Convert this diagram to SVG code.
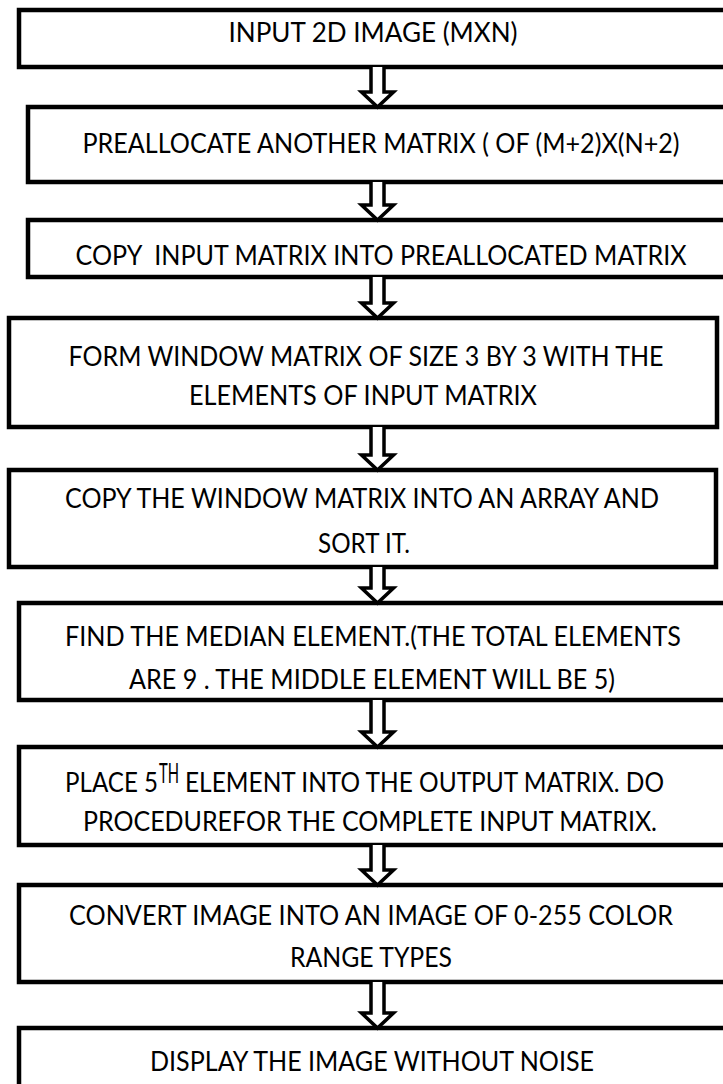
<svg xmlns="http://www.w3.org/2000/svg" width="723" height="1084" viewBox="0 0 723 1084">
<style>
.box{fill:#fff;stroke:#000;stroke-width:4.5}
.t{font-family:Lato,"Liberation Sans",sans-serif;font-size:27px;fill:#000;text-anchor:middle}
.s{font-family:Lato,"Liberation Sans",sans-serif;font-size:27px;fill:#000;text-anchor:start}
.arr{fill:#fff;stroke:#000;stroke-width:3.5;stroke-linejoin:miter}
</style>
<rect width="723" height="1084" fill="#fff"/>
<g id="n1"><rect class="box" x="19" y="10" width="720" height="57"/><text class="t" x="373" y="42" textLength="289" lengthAdjust="spacingAndGlyphs">INPUT 2D IMAGE (MXN)</text></g>
<g id="n2"><rect class="box" x="28" y="107" width="711" height="75"/><text class="t" x="381" y="153" textLength="597" lengthAdjust="spacingAndGlyphs">PREALLOCATE ANOTHER MATRIX ( OF (M+2)X(N+2)</text></g>
<g id="n3"><rect class="box" x="28" y="220" width="711" height="57"/><text class="t" x="381" y="265" textLength="611" lengthAdjust="spacingAndGlyphs" xml:space="preserve">COPY  INPUT MATRIX INTO PREALLOCATED MATRIX</text></g>
<g id="n4"><rect class="box" x="9" y="318" width="708" height="109"/><text class="t" x="366" y="366" textLength="595" lengthAdjust="spacingAndGlyphs">FORM WINDOW MATRIX OF SIZE 3 BY 3 WITH THE</text><text class="t" x="363" y="405" textLength="348" lengthAdjust="spacingAndGlyphs">ELEMENTS OF INPUT MATRIX</text></g>
<g id="n5"><rect class="box" x="9" y="470" width="707" height="97"/><text class="t" x="362" y="508" textLength="594" lengthAdjust="spacingAndGlyphs">COPY THE WINDOW MATRIX INTO AN ARRAY AND</text><text class="t" x="364" y="553" textLength="92" lengthAdjust="spacingAndGlyphs">SORT IT.</text></g>
<g id="n6"><rect class="box" x="19" y="603" width="720" height="97"/><text class="t" x="373" y="646" textLength="616" lengthAdjust="spacingAndGlyphs">FIND THE MEDIAN ELEMENT.(THE TOTAL ELEMENTS</text><text class="t" x="372" y="689" textLength="486" lengthAdjust="spacingAndGlyphs">ARE 9 . THE MIDDLE ELEMENT WILL BE 5)</text></g>
<g id="n7"><rect class="box" x="19" y="747" width="720" height="98"/><text class="s" x="65" y="792" textLength="93" lengthAdjust="spacingAndGlyphs">PLACE 5</text><text class="s" x="159" y="783" font-size="17" textLength="20" lengthAdjust="spacingAndGlyphs">TH</text><text class="s" x="185" y="792" textLength="479" lengthAdjust="spacingAndGlyphs">ELEMENT INTO THE OUTPUT MATRIX. DO</text><text class="t" x="370" y="831" textLength="574" lengthAdjust="spacingAndGlyphs">PROCEDUREFOR THE COMPLETE INPUT MATRIX.</text></g>
<g id="n8"><rect class="box" x="19" y="885" width="720" height="97"/><text class="t" x="371" y="925" textLength="604" lengthAdjust="spacingAndGlyphs">CONVERT IMAGE INTO AN IMAGE OF 0-255 COLOR</text><text class="t" x="371" y="967" textLength="162" lengthAdjust="spacingAndGlyphs">RANGE TYPES</text></g>
<g id="n9"><rect class="box" x="19" y="1028" width="720" height="70"/><text class="t" x="372" y="1071" textLength="444" lengthAdjust="spacingAndGlyphs">DISPLAY THE IMAGE WITHOUT NOISE</text></g>
<g id="connectors">
<path class="arr" d="M371,67 V92 H361.5 L377.5,107 L393.5,92 H384 V67"/>
<path class="arr" d="M371,182 V205 H361.5 L377.5,220 L393.5,205 H384 V182"/>
<path class="arr" d="M371,277 V303 H361.5 L377.5,318 L393.5,303 H384 V277"/>
<path class="arr" d="M371,427 V455 H361.5 L377.5,470 L393.5,455 H384 V427"/>
<path class="arr" d="M371,567 V588 H361.5 L377.5,603 L393.5,588 H384 V567"/>
<path class="arr" d="M371,700 V732 H361.5 L377.5,747 L393.5,732 H384 V700"/>
<path class="arr" d="M371,845 V870 H361.5 L377.5,885 L393.5,870 H384 V845"/>
<path class="arr" d="M371,982 V1013 H361.5 L377.5,1028 L393.5,1013 H384 V982"/>
</g>
</svg>
